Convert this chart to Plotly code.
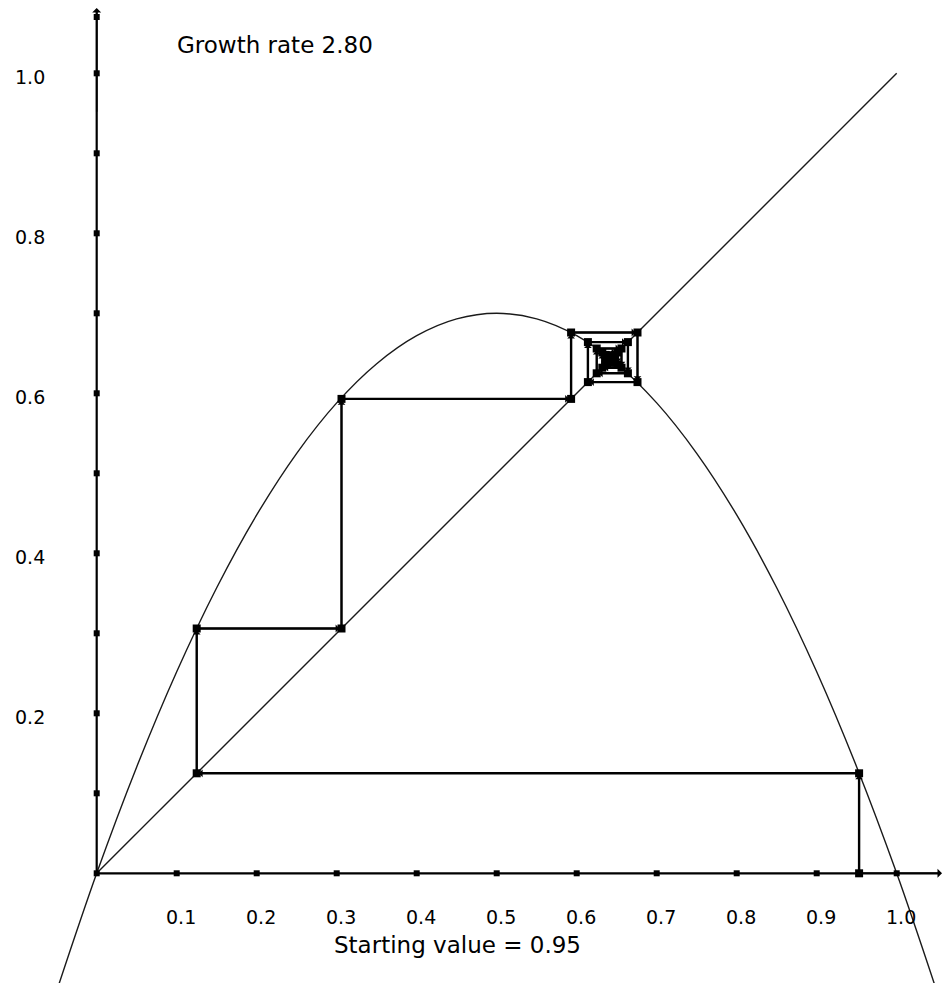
import plotly.graph_objects as go

# ---- data ----
growth_rate_label = "Growth rate 2.80"
start_label = "Starting value = 0.95"

# parabola (logistic map curve) sample points
curve_x = [-0.05, 0.0, 0.05, 0.1, 0.15, 0.2, 0.25, 0.3, 0.35, 0.4, 0.45, 0.5,
           0.55, 0.6, 0.65, 0.7, 0.75, 0.8, 0.85, 0.9, 0.95, 1.0, 1.05]
curve_y = [-0.147, 0.0, 0.133, 0.252, 0.357, 0.448, 0.525, 0.588, 0.637, 0.672, 0.693, 0.700,
           0.693, 0.672, 0.637, 0.588, 0.525, 0.448, 0.357, 0.252, 0.133, 0.0, -0.147]

# diagonal y = x
diag_x = [0.0, 1.0]
diag_y = [0.0, 1.0]

# iterates of the cobweb
iterates = [0.953, 0.125, 0.306, 0.593, 0.676, 0.614, 0.664, 0.625, 0.656, 0.632,
            0.651, 0.636, 0.648, 0.638, 0.646, 0.640, 0.645, 0.641, 0.644, 0.642,
            0.6435, 0.6422, 0.6433, 0.6424, 0.6431, 0.6426, 0.6430, 0.6427]

# axis ticks and labels
x_ticks = [0.1, 0.2, 0.3, 0.4, 0.5, 0.6, 0.7, 0.8, 0.9, 1.0]
x_tick_labels = ["0.1", "0.2", "0.3", "0.4", "0.5", "0.6", "0.7", "0.8", "0.9", "1.0"]
y_ticks = [0.1, 0.2, 0.3, 0.4, 0.5, 0.6, 0.7, 0.8, 0.9, 1.0]
y_label_vals = [0.2, 0.4, 0.6, 0.8, 1.0]
y_tick_labels = ["0.2", "0.4", "0.6", "0.8", "1.0"]

# ---- geometry (800 px per unit, origin at pixel (96.7, 873.3)) ----
W, H = 944, 983
PX = 800.0
ox, oy = 96.7, 873.3
x_range = [-ox / PX, (W - ox) / PX]
y_range = [-(H - oy) / PX, oy / PX]

FONT = "DejaVu Sans"

fig = go.Figure()

# parabola
fig.add_trace(go.Scatter(x=curve_x, y=curve_y, mode="lines",
                         line=dict(color="#1a1a1a", width=1.4, shape="spline", smoothing=1.0),
                         hoverinfo="skip", showlegend=False))
# diagonal
fig.add_trace(go.Scatter(x=diag_x, y=diag_y, mode="lines",
                         line=dict(color="#1a1a1a", width=1.4),
                         hoverinfo="skip", showlegend=False))

# axes
x_axis_end = (W - 4 - ox) / PX
y_axis_end = (oy - 10) / PX
fig.add_trace(go.Scatter(x=[0, x_axis_end], y=[0, 0], mode="lines",
                         line=dict(color="black", width=2.2), hoverinfo="skip", showlegend=False))
fig.add_trace(go.Scatter(x=[0, 0], y=[0, y_axis_end], mode="lines",
                         line=dict(color="black", width=2.2), hoverinfo="skip", showlegend=False))
# axis tick squares
fig.add_trace(go.Scatter(x=[0] + x_ticks, y=[0] * (len(x_ticks) + 1), mode="markers",
                         marker=dict(symbol="square", size=6, color="black"),
                         hoverinfo="skip", showlegend=False))
fig.add_trace(go.Scatter(x=[0] * len(y_ticks) + [0], y=y_ticks + [(oy - 17) / PX], mode="markers",
                         marker=dict(symbol="square", size=6, color="black"),
                         hoverinfo="skip", showlegend=False))

# cobweb path
path_x = [iterates[0]]
path_y = [0.0]
for i in range(len(iterates) - 1):
    a, b = iterates[i], iterates[i + 1]
    path_x += [a, b]
    path_y += [b, b]

fig.add_trace(go.Scatter(x=path_x, y=path_y, mode="lines+markers",
                         line=dict(color="black", width=2.4),
                         marker=dict(symbol="square", size=8, color="black"),
                         hoverinfo="skip", showlegend=False))

annotations = []
# small arrowheads at the end of each cobweb segment
for k in range(1, len(path_x)):
    annotations.append(dict(x=path_x[k], y=path_y[k], ax=path_x[k - 1], ay=path_y[k - 1],
                            xref="x", yref="y", axref="x", ayref="y",
                            text="", showarrow=True, arrowhead=1, arrowsize=1.0,
                            arrowwidth=1.3, arrowcolor="black", standoff=2))
# axis arrowheads
annotations.append(dict(x=(W - 2 - ox) / PX, y=0, ax=0.95, ay=0, xref="x", yref="y",
                        axref="x", ayref="y", text="", showarrow=True, arrowhead=1,
                        arrowsize=1.0, arrowwidth=1.5, arrowcolor="black"))
annotations.append(dict(x=0, y=(oy - 8) / PX, ax=0, ay=0.95, xref="x", yref="y",
                        axref="x", ayref="y", text="", showarrow=True, arrowhead=1,
                        arrowsize=1.0, arrowwidth=1.5, arrowcolor="black"))

# tick labels
for v, t in zip(x_ticks, x_tick_labels):
    annotations.append(dict(x=v + 4 / PX, y=-(917 - oy) / PX, text=t, showarrow=False,
                            xref="x", yref="y", xanchor="center", yanchor="middle",
                            font=dict(family=FONT, size=19, color="black")))
for v, t in zip(y_label_vals, y_tick_labels):
    annotations.append(dict(x=(30 - ox) / PX, y=v - 4 / PX, text=t, showarrow=False,
                            xref="x", yref="y", xanchor="center", yanchor="middle",
                            font=dict(family=FONT, size=19, color="black")))

# titles
annotations.append(dict(x=(175 - ox) / PX, y=(oy - 45) / PX, text=growth_rate_label,
                        showarrow=False, xref="x", yref="y", xanchor="left", yanchor="middle",
                        font=dict(family=FONT, size=23, color="black")))
annotations.append(dict(x=(457 - ox) / PX, y=-(945 - oy) / PX, text=start_label,
                        showarrow=False, xref="x", yref="y", xanchor="center", yanchor="middle",
                        font=dict(family=FONT, size=23, color="black")))

fig.update_layout(
    width=W, height=H,
    margin=dict(l=0, r=0, t=0, b=0),
    paper_bgcolor="white", plot_bgcolor="white",
    xaxis=dict(range=x_range, visible=False, fixedrange=True),
    yaxis=dict(range=y_range, visible=False, fixedrange=True),
    annotations=annotations,
    showlegend=False,
)

fig.write_html("out.html", config={"displayModeBar": False},
               post_script="document.body.style.margin='0';document.body.style.overflow='hidden';")
